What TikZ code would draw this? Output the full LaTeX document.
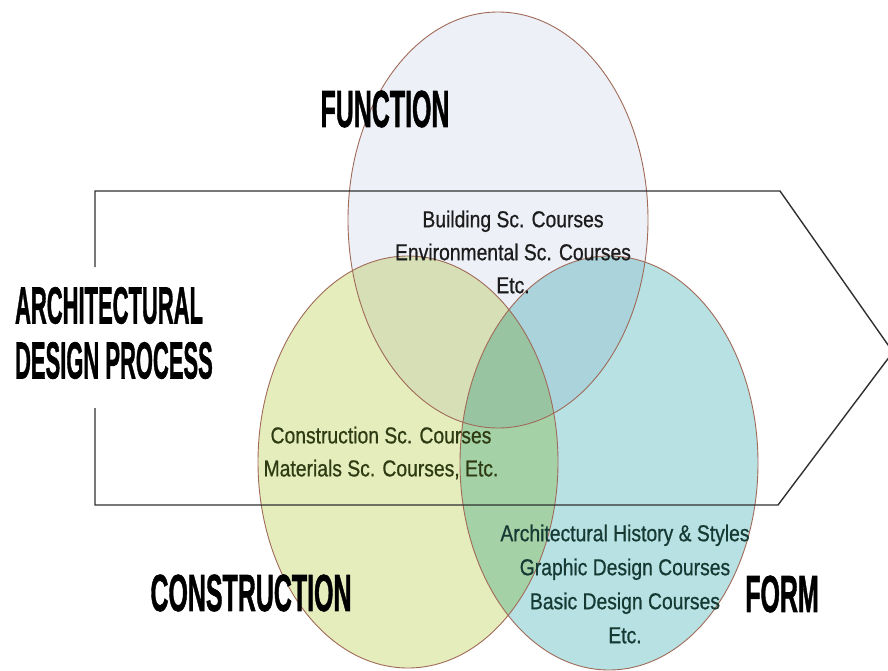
\documentclass[tikz,border=0pt]{standalone}
\usepackage{fontspec}
\setmainfont{Liberation Sans}
\newfontfamily\headfont{Liberation Sans Bold}[FakeBold=1.5]
\newfontfamily\coursefont{Liberation Sans}[FakeBold=0.8]
\usetikzlibrary{positioning}
\definecolor{funfill}{HTML}{EEF0F8}
\definecolor{confill}{HTML}{E6EDBC}
\definecolor{formfill}{HTML}{B7E1E3}
\definecolor{ringline}{HTML}{A06A58}
\definecolor{frameline}{HTML}{303030}
\definecolor{funtext}{HTML}{1C1C1C}
\definecolor{context}{HTML}{2E3B12}
\definecolor{formtext}{HTML}{163A33}

\begin{document}
\begin{tikzpicture}[x=1pt,y=-1pt,
    head/.style={font=\headfont\fontsize{52}{55}\selectfont, xscale=0.48, inner sep=0pt, text=black},
    course/.style={font=\coursefont\fontsize{23}{33}\selectfont, xscale=0.84, align=center, inner sep=0pt}]
        \useasboundingbox (0,0) rectangle (888,671);
        % Circles
        \begin{scope}[blend group=multiply]
            \fill[funfill] (498,220) ellipse [x radius=150, y radius=208];
            \fill[confill] (408,462) ellipse [x radius=150, y radius=206];
            \fill[formfill] (609,463) ellipse [x radius=149, y radius=207];
        \end{scope}
        \draw[ringline, line width=0.9pt] (498,220) ellipse [x radius=150, y radius=208];
        \draw[ringline, line width=0.9pt] (408,462) ellipse [x radius=150, y radius=206];
        \draw[ringline, line width=0.9pt] (609,463) ellipse [x radius=149, y radius=207];
        % Process arrow
        \draw[frameline, line width=1.4pt] (95,267) -- (95,191) -- (780,191) -- (893,352)
            -- (778,505) -- (95,505) -- (95,408);
        % Labels
        \node[head, xscale=0.88, anchor=west, align=left] (process) at (15,333) {ARCHITECTURAL\\DESIGN PROCESS};
        \node[head] (function) at (385,109) {FUNCTION};
        \node[head] (construction) at (251,593) {CONSTRUCTION};
        \node[head] (form) at (782,594) {FORM};
        \node[course, text=funtext] (funcourses) at (513,252)
            {Building Sc. Courses\\Environmental Sc. Courses\\Etc.};
        \node[course, text=context] (concourses) at (381,453)
            {Construction Sc. Courses\\Materials Sc. Courses, Etc.};
        \node[course, text=formtext, font=\coursefont\fontsize{23}{34}\selectfont] (formcourses) at (625,584)
            {Architectural History \& Styles\\Graphic Design Courses\\Basic Design Courses\\Etc.};
    \end{tikzpicture}
\end{document}
